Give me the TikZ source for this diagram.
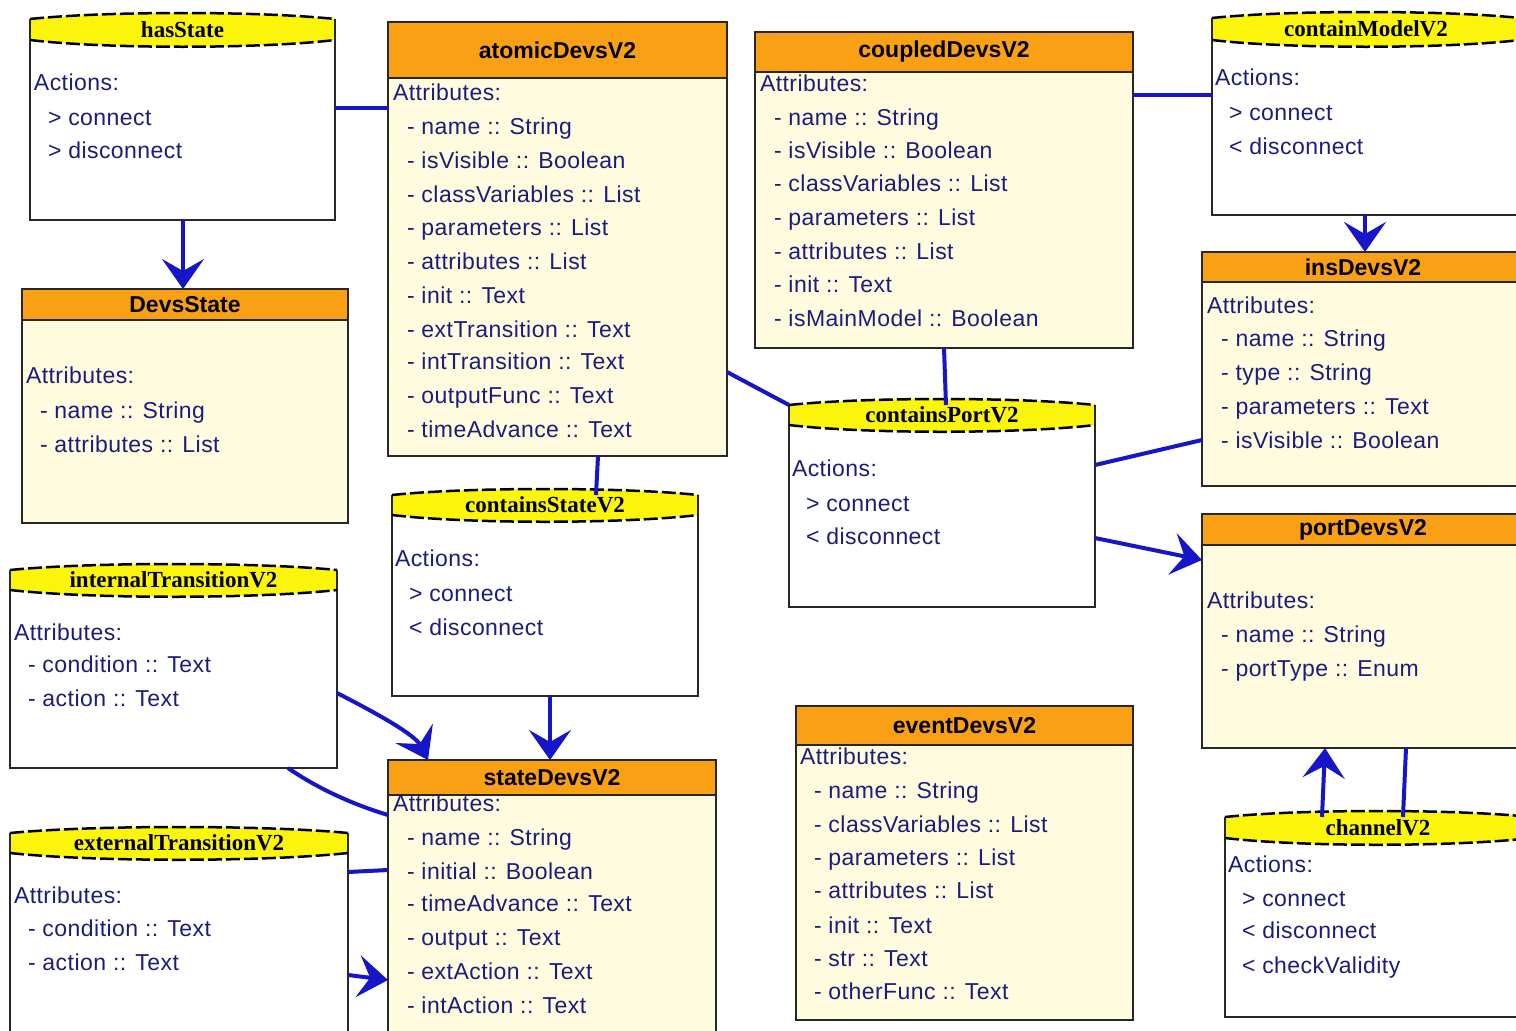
\documentclass[tikz,border=0pt]{standalone}
\usepackage{fontspec}
\setmainfont{Liberation Sans}
\newfontfamily\relfont{Liberation Serif}
\newfontfamily\attrfont[LetterSpace=2]{Liberation Sans}
\usetikzlibrary{arrows.meta}
\definecolor{txtblue}{RGB}{28,28,125}
\definecolor{linkblue}{RGB}{22,22,200}
\definecolor{hdrorange}{RGB}{250,160,20}
\definecolor{bodyyellow}{RGB}{255,251,222}
\definecolor{hdryellow}{RGB}{250,245,10}
\definecolor{edgegray}{RGB}{40,40,40}

\newcommand{\clsbox}[7]{%
  \node[clshdr, minimum width=#4pt, minimum height=#5pt] (#1h) at (#2,#3) {#7};
  \node[clsbody, minimum width=#4pt, minimum height=#6pt] (#1) at (#1h.south west) {};
  \draw[boxline] (#1h.south west) -- (#1h.south east);
}
\newcommand{\relbox}[7]{%
  \node[relbody, minimum width=#4pt, minimum height=#5pt] (#1) at (#2,#3) {};
  \fill[hdryellow] (#2,#3) .. controls ({#2+#4/4},{#3-8}) and ({#2+3*#4/4},{#3-8}) .. ({#2+#4},#3)
     -- ({#2+#4},{#3+#6}) .. controls ({#2+3*#4/4},{#3+#6+9}) and ({#2+#4/4},{#3+#6+9}) .. (#2,{#3+#6}) -- cycle;
  \draw[boxline] (#2,#3) -- (#1.south west) -- (#1.south east) -- ({#2+#4},#3);
  \draw[lensline] (#2,#3) .. controls ({#2+#4/4},{#3-8}) and ({#2+3*#4/4},{#3-8}) .. ({#2+#4},#3);
  \draw[lensline] (#2,{#3+#6}) .. controls ({#2+#4/4},{#3+#6+9}) and ({#2+3*#4/4},{#3+#6+9}) .. ({#2+#4},{#3+#6});
  \node[reltitle] (#1t) at ({#2+#4/2},{#3+#6/2}) {#7};
}
\newcommand{\tline}[4]{\node[attr] (#1) at (#2,#3) {#4};}

\begin{document}
\begin{tikzpicture}[x=1pt,y=-1pt,
  every node/.style={inner sep=0pt, outer sep=0pt},
  clshdr/.style={draw=edgegray, line width=1.5pt, fill=hdrorange, anchor=north west,
    font=\fontsize{23}{25}\selectfont\bfseries, text=black},
  clsbody/.style={draw=edgegray, line width=1.5pt, fill=bodyyellow, anchor=north west},
  relbody/.style={fill=white, anchor=north west},
  reltitle/.style={font=\relfont\fontsize{23}{25}\selectfont\bfseries, text=black},
  attr/.style={anchor=west, text=txtblue, font=\attrfont\fontsize{23}{26}\selectfont,
    text height=16pt, text depth=5pt, yshift=-3pt},
  link/.style={draw=linkblue, line width=4pt},
  arr/.style={link, -{Stealth[length=30pt,width=42pt,inset=12pt]}},
  lensline/.style={draw=black, line width=2.5pt, dash pattern=on 14pt off 4pt},
  boxline/.style={draw=edgegray, line width=1.5pt}
]
\useasboundingbox (0,0) rectangle (1516,1031);
\fill[white] (0,0) rectangle (1516,1031);
\clip (0,0) rectangle (1516,1031);

% ---------- relationship boxes ----------
\relbox{hasState}{30}{19}{305}{201}{21}{hasState}
\tline{hs1}{34}{82}{Actions:}
\tline{hs2}{48}{117}{> connect}
\tline{hs3}{48}{150}{> disconnect}

\relbox{containModel}{1212}{18}{308}{197}{22}{containModelV2}
\tline{cm1}{1215}{77}{Actions:}
\tline{cm2}{1229}{112}{> connect}
\tline{cm3}{1229}{146}{< disconnect}

\relbox{containsPort}{789}{405}{306}{202}{20}{containsPortV2}
\tline{cp1}{792}{468}{Actions:}
\tline{cp2}{806}{503}{> connect}
\tline{cp3}{806}{536}{< disconnect}

\relbox{containsState}{392}{495}{306}{201}{20}{containsStateV2}
\tline{cs1}{395}{558}{Actions:}
\tline{cs2}{409}{593}{> connect}
\tline{cs3}{409}{627}{< disconnect}

\relbox{internal}{10}{570}{327}{198}{20}{internalTransitionV2}
\tline{it1}{14}{632}{Attributes:}
\tline{it2}{28}{664}{- condition :: Text}
\tline{it3}{28}{698}{- action :: Text}

\relbox{external}{10}{833}{338}{220}{20}{externalTransitionV2}
\tline{et1}{14}{895}{Attributes:}
\tline{et2}{28}{928}{- condition :: Text}
\tline{et3}{28}{962}{- action :: Text}

\relbox{channel}{1225}{817}{306}{200}{21}{channelV2}
\tline{ch1}{1228}{864}{Actions:}
\tline{ch2}{1242}{898}{> connect}
\tline{ch3}{1242}{930}{< disconnect}
\tline{ch4}{1242}{965}{< checkValidity}

% ---------- class boxes ----------
\clsbox{devsState}{22}{289}{326}{31}{203}{DevsState}
\tline{ds1}{26}{375}{Attributes:}
\tline{ds2}{40}{410}{- name :: String}
\tline{ds3}{40}{444}{- attributes :: List}

\clsbox{atomic}{388}{22}{339}{56}{378}{atomicDevsV2}
\tline{at0}{393}{92}{Attributes:}
\tline{at1}{407}{126}{- name :: String}
\tline{at2}{407}{160}{- isVisible :: Boolean}
\tline{at3}{407}{194}{- classVariables :: List}
\tline{at4}{407}{227}{- parameters :: List}
\tline{at5}{407}{261}{- attributes :: List}
\tline{at6}{407}{295}{- init :: Text}
\tline{at7}{407}{329}{- extTransition :: Text}
\tline{at8}{407}{361}{- intTransition :: Text}
\tline{at9}{407}{395}{- outputFunc :: Text}
\tline{at10}{407}{429}{- timeAdvance :: Text}

\clsbox{coupled}{755}{32}{378}{40}{276}{coupledDevsV2}
\tline{cd0}{760}{83}{Attributes:}
\tline{cd1}{774}{117}{- name :: String}
\tline{cd2}{774}{150}{- isVisible :: Boolean}
\tline{cd3}{774}{183}{- classVariables :: List}
\tline{cd4}{774}{217}{- parameters :: List}
\tline{cd5}{774}{251}{- attributes :: List}
\tline{cd6}{774}{284}{- init :: Text}
\tline{cd7}{774}{318}{- isMainModel :: Boolean}

\clsbox{insDevs}{1202}{252}{322}{30}{204}{insDevsV2}
\tline{in0}{1207}{305}{Attributes:}
\tline{in1}{1221}{338}{- name :: String}
\tline{in2}{1221}{372}{- type :: String}
\tline{in3}{1221}{406}{- parameters :: Text}
\tline{in4}{1221}{440}{- isVisible :: Boolean}

\clsbox{portDevs}{1202}{514}{322}{31}{203}{portDevsV2}
\tline{pd0}{1207}{600}{Attributes:}
\tline{pd1}{1221}{634}{- name :: String}
\tline{pd2}{1221}{668}{- portType :: Enum}

\clsbox{stateDevs}{388}{760}{328}{35}{260}{stateDevsV2}
\tline{sd0}{393}{803}{Attributes:}
\tline{sd1}{407}{837}{- name :: String}
\tline{sd2}{407}{871}{- initial :: Boolean}
\tline{sd3}{407}{903}{- timeAdvance :: Text}
\tline{sd4}{407}{937}{- output :: Text}
\tline{sd5}{407}{971}{- extAction :: Text}
\tline{sd6}{407}{1005}{- intAction :: Text}

\clsbox{eventDevs}{796}{706}{337}{39}{275}{eventDevsV2}
\tline{ed0}{800}{756}{Attributes:}
\tline{ed1}{814}{790}{- name :: String}
\tline{ed2}{814}{824}{- classVariables :: List}
\tline{ed3}{814}{857}{- parameters :: List}
\tline{ed4}{814}{890}{- attributes :: List}
\tline{ed5}{814}{925}{- init :: Text}
\tline{ed6}{814}{958}{- str :: Text}
\tline{ed7}{814}{991}{- otherFunc :: Text}

% ---------- connectors ----------
\draw[link] (hasState.east |- 0,108) -- (atomic.west |- 0,108);
\draw[arr] (183,0 |- hasState.south) -- (183,0 |- devsStateh.north);
\draw[link] (598,0 |- atomic.south) -- (596,0 |- containsState.north);
\draw[link] (atomic.east |- 0,372) -- (containsPort.north west);
\draw[link] (944,0 |- coupled.south) -- (946,0 |- containsPort.north);
\draw[link] (coupled.east |- 0,95) -- (containModel.west |- 0,95);
\draw[arr] (1365,0 |- containModel.south) -- (1365,0 |- insDevsh.north);
\draw[link] (containsPort.east |- 0,465) -- (insDevs.west |- 0,440);
\draw[arr] (containsPort.east |- 0,538) -- (portDevs.west |- 0,560);
\draw[arr] (550,0 |- containsState.south) -- (550,0 |- stateDevsh.north);
\draw[arr] (internal.east |- 0,693) .. controls (380,715) and (415,735) .. (428,0 |- stateDevsh.north);
\draw[link] (288,0 |- internal.south) .. controls (320,790) and (355,805) .. (stateDevs.west |- 0,815);
\draw[link] (external.east |- 0,872) -- (stateDevs.west |- 0,870);
\draw[arr] (external.east |- 0,975) -- (stateDevs.west |- 0,980);
\draw[arr] (1322,0 |- channel.north) -- (1325,0 |- portDevs.south);
\draw[link] (1403,0 |- channel.north) -- (1406,0 |- portDevs.south);
\end{tikzpicture}
\end{document}
